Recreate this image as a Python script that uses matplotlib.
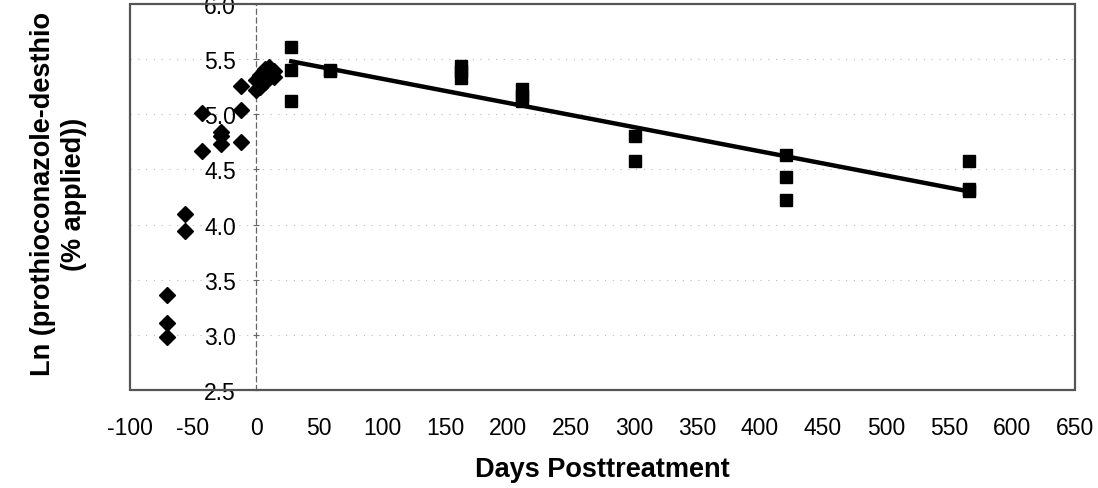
import matplotlib.pyplot as plt
from matplotlib.patches import Rectangle

plt.rcParams['font.family'] = ['Liberation Sans', 'DejaVu Sans']
plt.rcParams['axes.unicode_minus'] = False

# pre-treatment / early points (diamonds)
dia_x = [-71, -71, -71, -56, -56, -43, -43, -28, -28, -28, -12, -12, -12,
         0, 0, 3, 3, 7, 7, 10, 14, 14]
dia_y = [2.98, 3.11, 3.36, 3.94, 4.10, 4.67, 5.01, 4.73, 4.80, 4.84, 4.75, 5.04, 5.26,
         5.22, 5.31, 5.25, 5.36, 5.29, 5.41, 5.43, 5.34, 5.39]

# post-treatment points used for the regression (squares)
sq_x = [28, 28, 28, 59, 59, 163, 163, 163, 211, 211, 211, 301, 301,
        421, 421, 421, 566, 566, 566]
sq_y = [5.61, 5.40, 5.12, 5.39, 5.40, 5.44, 5.39, 5.33, 5.23, 5.17, 5.12, 4.80, 4.58,
        4.63, 4.43, 4.22, 4.58, 4.32, 4.30]

# fitted line end points
fit_x = [28, 566]
fit_y = [5.48, 4.30]

xticks = list(range(-100, 651, 50))
yticks = [2.5, 3.0, 3.5, 4.0, 4.5, 5.0, 5.5, 6.0]

fig = plt.figure(figsize=(10.98, 4.89), dpi=100)
ax = fig.add_axes([0.1184, 0.2004, 0.8607, 0.7894])

for y in yticks[1:-1]:
    ax.axhline(y, color='#bbbbbb', linestyle=(0, (1, 6)), linewidth=0.8, zorder=0)

ax.plot(fit_x, fit_y, color='black', linewidth=3.2, zorder=2)
ax.plot(dia_x, dia_y, 'D', color='black', markersize=8, linestyle='none', zorder=3)
ax.plot(sq_x, sq_y, 's', color='black', markersize=9, linestyle='none', zorder=3)

ax.set_xlim(-100, 650)
ax.set_ylim(2.5, 6.0)
ax.set_xticks(xticks)
ax.set_yticks(yticks)
ax.set_yticklabels(['%.1f' % v for v in yticks])

# y axis crosses at x = 0 (spreadsheet style), frame drawn separately
ax.spines['left'].set_position(('data', 0))
ax.spines['left'].set_color('#666666')
ax.spines['left'].set_linestyle((0, (4, 3)))
ax.spines['left'].set_linewidth(0.9)
for s in ['top', 'right', 'bottom']:
    ax.spines[s].set_visible(False)
ax.add_patch(Rectangle((0, 0), 1, 1, transform=ax.transAxes, fill=False,
                       edgecolor='#555555', linewidth=1.6, clip_on=False, zorder=4))

ax.tick_params(axis='y', direction='inout', length=5, width=0.8, color='#666666',
               labelsize=16.5, pad=12)
ax.tick_params(axis='x', direction='out', length=0, labelsize=16.5, pad=19)

ax.set_xlabel('Days Posttreatment', fontsize=19.5, fontweight='bold', labelpad=12)
ax.set_ylabel('Ln (prothioconazole-desthio\n(% applied))', fontsize=19.5,
              fontweight='bold', linespacing=1.25)
ax.yaxis.set_label_coords(-0.046, 0.51)

fig.savefig('out.png', dpi=100)
